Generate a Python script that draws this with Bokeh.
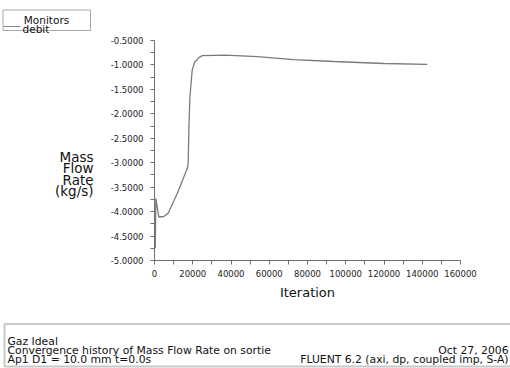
from bokeh.plotting import figure
from bokeh.layouts import row, column
from bokeh.models import (FixedTicker, PrintfTickFormatter, NumeralTickFormatter, Range1d)
from bokeh.core.properties import value
from bokeh.embed import file_html
from bokeh.resources import INLINE

# ---- data ----
iterations = [0, 400, 700, 2250, 4900, 7200, 11900, 17100, 17600, 17950, 18500,
              19700, 21100, 23200, 25000, 37000, 53700, 72800, 93800, 119900, 142600]
mass_flow = [-4.30, -4.75, -3.73, -4.11, -4.10, -4.03, -3.63, -3.12, -3.02, -2.34, -1.66,
             -1.11, -0.94, -0.85, -0.81, -0.80, -0.83, -0.89, -0.93, -0.97, -0.99]
x_major = [0, 20000, 40000, 60000, 80000, 100000, 120000, 140000, 160000]
x_minor = [10000, 30000, 50000, 70000, 90000, 110000, 130000, 150000]
y_major = [-5.0, -4.5, -4.0, -3.5, -3.0, -2.5, -2.0, -1.5, -1.0, -0.5]
y_minor = [-4.75, -4.25, -3.75, -3.25, -2.75, -2.25, -1.75, -1.25, -0.75]
legend_title = "Monitors"
series_name = "debit"
y_label_lines = ["Mass", "Flow", "Rate", "(kg/s)"]
x_label = "Iteration"
footer_left = ["Gaz Ideal", "Convergence history of Mass Flow Rate on sortie",
               "Ap1  D1 = 10.0 mm   t=0.0s"]
footer_right = ["Oct 27, 2006", "FLUENT 6.2 (axi, dp, coupled imp, S-A)"]

FONT = "DejaVu Sans"
AX = "#707070"
TXT = "#111111"


def panel(w, h, **kw):
    f = figure(x_axis_location=None, y_axis_location=None,
               output_backend="svg", toolbar_location=None,
               background_fill_color="white", border_fill_color="white", **kw)
    f.outline_line_color = None
    f.grid.visible = False
    return f


# ---- top strip: legend box ----
top = panel(510, 34, width=510, height=34, min_border=0,
            x_range=Range1d(0, 510), y_range=Range1d(34, 0))
top.quad(left=[2.5], right=[90], top=[9.5], bottom=[30],
         fill_color=None, line_color="#a8a8a8", line_width=1)
top.line([3, 20], [26, 26], line_color="#8a8a8a", line_width=1)
top.text(x=[46], y=[19.5], text=[legend_title], text_font=value(FONT),
         text_font_size="10.5px", text_align="center", text_baseline="alphabetic",
         text_color=TXT)
top.text(x=[22], y=[28.5], text=[series_name], text_font=value(FONT),
         text_font_size="10.5px", text_align="left", text_baseline="alphabetic",
         text_color=TXT)

# ---- main chart ----
p = figure(frame_width=306, frame_height=220,
           min_border_left=50, min_border_right=50,
           min_border_top=6, min_border_bottom=48,
           x_range=Range1d(0, 160000), y_range=Range1d(-5.0, -0.5),
           output_backend="svg", toolbar_location=None,
           background_fill_color="white", border_fill_color="white")
p.outline_line_color = None
p.grid.visible = False

p.line(iterations, mass_flow, line_color="#7a7a7a", line_width=1.3)

for ax in (p.xaxis[0], p.yaxis[0]):
    ax.axis_line_color = AX
    ax.major_tick_line_color = AX
    ax.minor_tick_line_color = AX
    ax.major_tick_in = 0
    ax.minor_tick_in = 0
    ax.major_tick_out = 4
    ax.minor_tick_out = 4
    ax.major_label_text_font = FONT
    ax.major_label_text_font_size = "8.5px"
    ax.major_label_text_color = "#222222"

p.xaxis[0].major_label_standoff = 5
p.yaxis[0].major_label_standoff = 7
p.xaxis[0].ticker = FixedTicker(ticks=x_major, minor_ticks=x_minor)
p.yaxis[0].ticker = FixedTicker(ticks=y_major, minor_ticks=y_minor)
p.xaxis[0].formatter = NumeralTickFormatter(format="0")
p.yaxis[0].formatter = PrintfTickFormatter(format="%.4f")

p.xaxis[0].axis_label = x_label
p.xaxis[0].axis_label_text_font = FONT
p.xaxis[0].axis_label_text_font_size = "13px"
p.xaxis[0].axis_label_text_font_style = "normal"
p.xaxis[0].axis_label_text_color = TXT
p.xaxis[0].axis_label_standoff = 5

# ---- left panel: y label (frame aligned with the main frame, page coords 40..260) ----
left = panel(104, 274, frame_width=104, frame_height=220,
             min_border_left=0, min_border_right=0,
             min_border_top=6, min_border_bottom=48,
             x_range=Range1d(0, 104), y_range=Range1d(260, 40))
left.text(x=[93] * len(y_label_lines), y=[156.5, 167.8, 179.1, 190.4], text=y_label_lines,
          text_font=value(FONT), text_font_size="13.5px", text_align="right",
          text_baseline="alphabetic", text_color=TXT)

# ---- footer panel ----
foot = panel(510, 60, width=510, height=60, min_border=0,
             x_range=Range1d(0, 510), y_range=Range1d(60, 0))
foot.quad(left=[4], right=[512], top=[15.5], bottom=[58],
          fill_color=None, line_color="#c8c8c8", line_width=2)
foot.text(x=[7] * 3, y=[32.5, 41.5, 50.5], text=footer_left, text_font=value(FONT),
          text_font_size="10.8px", text_align="left", text_baseline="alphabetic",
          text_color=TXT)
foot.text(x=[508] * 2, y=[41.5, 50.5], text=footer_right, text_font=value(FONT),
          text_font_size="10.8px", text_align="right", text_baseline="alphabetic",
          text_color=TXT)

layout = column(top, row(left, p, spacing=0), foot, spacing=0)
open("out.html", "w").write(file_html(layout, INLINE))
